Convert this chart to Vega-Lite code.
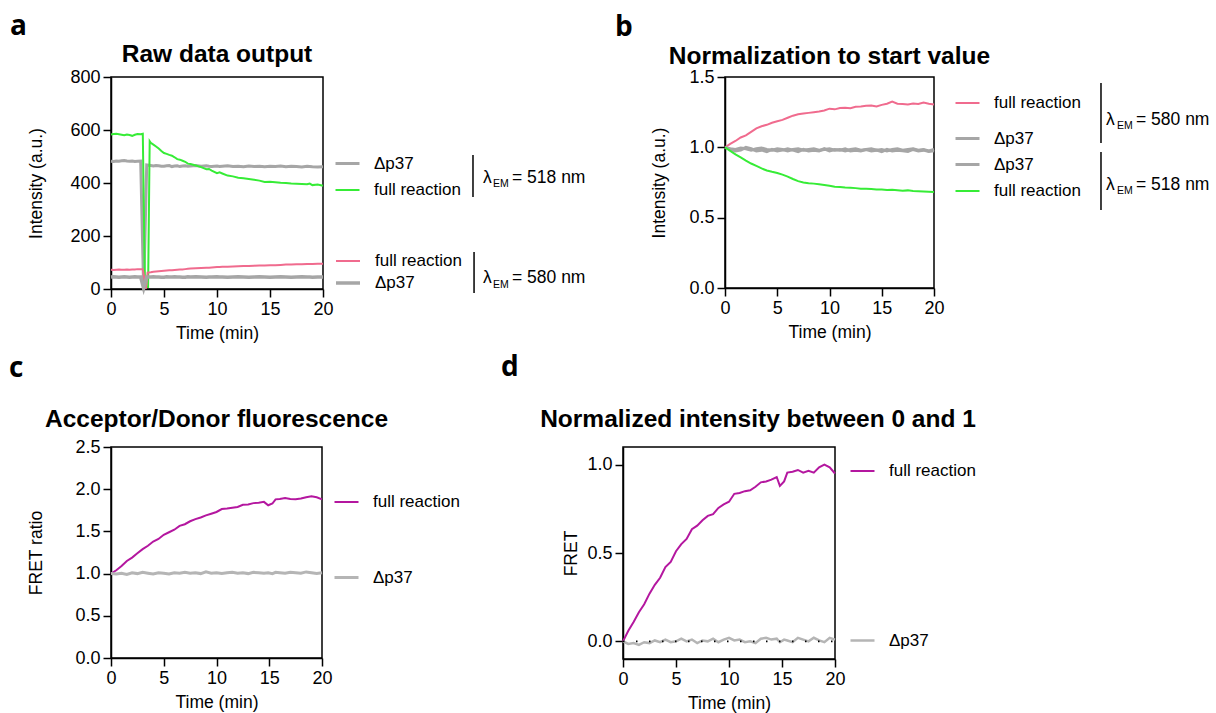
{
"$schema": "https://vega.github.io/schema/vega-lite/v6.json",
"background": "white",
"padding": {"left": 8, "top": 12, "right": 0, "bottom": 0},
"config": {
 "view": {"stroke": "#000", "strokeWidth": 1.5},
 "font": "Liberation Sans",
 "axis": {"grid": false, "domainColor": "#000", "domainWidth": 1.5, "tickColor": "#000", "tickWidth": 1.5, "tickSize": 8, "labelFont": "Liberation Sans", "labelFontSize": 18, "labelColor": "#000", "labelPadding": 3, "labelFlush": false, "labelOverlap": false, "titleFont": "Liberation Sans", "titleFontWeight": "normal", "titleColor": "#000"},
 "axisX": {"titleFontSize": 17.5, "titlePadding": 6},
 "axisY": {"titleFontSize": 17.5},
 "legend": {"labelFont": "Liberation Sans", "labelFontSize": 17, "labelColor": "#000", "symbolType": "stroke", "symbolSize": 576, "symbolStrokeWidth": 2.5, "labelOffset": 13, "padding": 0},
 "title": {"font": "Liberation Sans", "fontSize": 24.5, "fontWeight": "bold", "color": "#000", "anchor": "middle", "frame": "group"}
},
"spacing": 10,
"resolve": {"scale": {"color": "independent", "strokeWidth": "independent"}, "legend": {"color": "independent", "strokeWidth": "independent"}},
"vconcat": [
{
 "bounds": "flush",
 "spacing": 402,
 "resolve": {"scale": {"color": "independent", "strokeWidth": "independent"}, "legend": {"color": "independent", "strokeWidth": "independent"}},
 "hconcat": [
 {
  "width": 212, "height": 212,
  "title": {"text": "Raw data output", "offset": -55},
  "data": {"values": [
   {"t":0,"g":583,"d1":482,"p":73,"d2":45},
   {"t":0.25,"g":585,"d1":481,"p":72,"d2":46},
   {"t":0.5,"g":586,"d1":483,"p":73,"d2":45},
   {"t":0.75,"g":584,"d1":482,"p":74,"d2":44},
   {"t":1,"g":582,"d1":484,"p":73,"d2":45},
   {"t":1.25,"g":580,"d1":485,"p":73,"d2":46},
   {"t":1.5,"g":583,"d1":483,"p":74,"d2":45},
   {"t":1.75,"g":581,"d1":482,"p":73,"d2":44},
   {"t":2,"g":578,"d1":483,"p":74,"d2":45},
   {"t":2.25,"g":582,"d1":481,"p":74,"d2":46},
   {"t":2.5,"g":585,"d1":482,"p":75,"d2":45},
   {"t":2.8,"g":584,"d1":483,"p":75,"d2":45},
   {"t":3.0,"g":586,"p":75},
   {"t":3.08,"d1":2,"d2":2},
   {"t":3.2,"g":8},
   {"t":3.3,"p":1},
   {"t":3.37,"d1":468,"d2":45},
   {"t":3.45,"p":62},
   {"t":3.5,"g":8},
   {"t":3.65,"g":558},
   {"t":3.75,"g":552,"d1":466,"p":63,"d2":45},
   {"t":4,"g":545,"d1":464,"p":65,"d2":46},
   {"t":4.25,"g":538,"d1":466,"p":66,"d2":45},
   {"t":4.5,"g":530,"d1":465,"p":67,"d2":45},
   {"t":4.75,"g":521,"d1":463,"p":68,"d2":44},
   {"t":5,"g":513,"d1":463,"p":69,"d2":44},
   {"t":5.25,"g":510,"d1":465,"p":70,"d2":46},
   {"t":5.5,"g":506,"d1":466,"p":71,"d2":45},
   {"t":5.75,"g":503,"d1":462,"p":71,"d2":45},
   {"t":6,"g":497,"d1":464,"p":72,"d2":46},
   {"t":6.25,"g":490,"d1":465,"p":73,"d2":45},
   {"t":6.5,"g":488,"d1":462,"p":74,"d2":45},
   {"t":6.75,"g":484,"d1":464,"p":74,"d2":44},
   {"t":7,"g":480,"d1":465,"p":75,"d2":44},
   {"t":7.25,"g":473,"d1":463,"p":76,"d2":46},
   {"t":7.5,"g":472,"d1":464,"p":77,"d2":45},
   {"t":8,"g":466,"d1":466,"p":78,"d2":46},
   {"t":8.5,"g":460,"d1":463,"p":79,"d2":45},
   {"t":9,"g":452,"d1":465,"p":80,"d2":44},
   {"t":9.25,"g":453,"d1":463,"p":80,"d2":45},
   {"t":9.5,"g":447,"d1":462,"p":81,"d2":45},
   {"t":10,"g":437,"d1":464,"p":83,"d2":46},
   {"t":10.25,"g":440,"d1":462,"p":83,"d2":45},
   {"t":10.5,"g":436,"d1":463,"p":84,"d2":45},
   {"t":11,"g":428,"d1":465,"p":84,"d2":44},
   {"t":11.5,"g":425,"d1":462,"p":85,"d2":45},
   {"t":12,"g":420,"d1":463,"p":86,"d2":46},
   {"t":12.5,"g":418,"d1":461,"p":87,"d2":45},
   {"t":13,"g":415,"d1":464,"p":87,"d2":44},
   {"t":13.5,"g":412,"d1":462,"p":88,"d2":45},
   {"t":14,"g":409,"d1":463,"p":89,"d2":46},
   {"t":14.5,"g":404,"d1":461,"p":89,"d2":45},
   {"t":15,"g":405,"d1":463,"p":90,"d2":44},
   {"t":15.5,"g":403,"d1":462,"p":90,"d2":45},
   {"t":16,"g":401,"d1":464,"p":91,"d2":46},
   {"t":16.5,"g":400,"d1":461,"p":92,"d2":45},
   {"t":17,"g":398,"d1":463,"p":92,"d2":44},
   {"t":17.5,"g":397,"d1":462,"p":93,"d2":45},
   {"t":18,"g":396,"d1":460,"p":93,"d2":46},
   {"t":18.5,"g":395,"d1":463,"p":94,"d2":45},
   {"t":18.75,"g":398,"d1":462,"p":94,"d2":45},
   {"t":19,"g":392,"d1":461,"p":94,"d2":44},
   {"t":19.5,"g":394,"d1":460,"p":95,"d2":45},
   {"t":20,"g":390,"d1":461,"p":95,"d2":45}
  ]},
  "layer": [
   {"transform": [{"fold": ["d1","g"], "as": ["series","v"]}, {"filter": "isValid(datum.v)"}],
    "mark": {"type": "line"},
    "encoding": {
     "x": {"field": "t", "type": "quantitative", "scale": {"domain": [0,20]}, "axis": {"values": [0,5,10,15,20], "title": "Time (min)"}},
     "y": {"field": "v", "type": "quantitative", "scale": {"domain": [0,800]}, "axis": {"values": [0,200,400,600,800], "title": "Intensity (a.u.)", "titlePadding": 24}},
     "color": {"field": "series", "type": "nominal", "scale": {"domain": ["d1","g"], "range": ["#a6a6a6","#36ec36"]}, "legend": {"title": null, "orient": "none", "legendX": 223, "legendY": 73, "rowPadding": 5, "labelExpr": "datum.label == 'd1' ? 'Δp37' : 'full reaction'"}},
     "strokeWidth": {"field": "series", "type": "nominal", "scale": {"domain": ["d1","g"], "range": [3,2]}, "legend": null}
    }},
   {"transform": [{"fold": ["p","d2"], "as": ["series","v"]}, {"filter": "isValid(datum.v)"}],
    "mark": {"type": "line"},
    "encoding": {
     "x": {"field": "t", "type": "quantitative", "scale": {"domain": [0,20]}},
     "y": {"field": "v", "type": "quantitative", "scale": {"domain": [0,800]}},
     "color": {"field": "series", "type": "nominal", "scale": {"domain": ["p","d2"], "range": ["#f06b8e","#a6a6a6"]}, "legend": {"title": null, "orient": "none", "legendX": 223, "legendY": 171, "rowPadding": 0, "labelExpr": "datum.label == 'd2' ? 'Δp37' : 'full reaction'"}},
     "strokeWidth": {"field": "series", "type": "nominal", "scale": {"domain": ["p","d2"], "range": [2,3.5]}, "legend": null}
    }},
   {"data": {"values": [{}]}, "mark": {"type": "rule", "color": "#000", "strokeWidth": 1.5},
    "encoding": {"x": {"datum": 34.15, "type": "quantitative", "scale": {"domain": [0,20]}}, "y": {"datum": 505.7, "type": "quantitative", "scale": {"domain": [0,800]}}, "y2": {"datum": 347.2}}},
   {"data": {"values": [{}]}, "mark": {"type": "rule", "color": "#000", "strokeWidth": 1.5},
    "encoding": {"x": {"datum": 34.25, "type": "quantitative", "scale": {"domain": [0,20]}}, "y": {"datum": 139.6, "type": "quantitative", "scale": {"domain": [0,800]}}, "y2": {"datum": -15.1}}},
   {"data": {"values": [{}]}, "mark": {"type": "text", "text": "λ", "fontSize": 17.5, "align": "left", "baseline": "alphabetic", "fill": "#000"},
    "encoding": {"x": {"datum": 35.09, "type": "quantitative", "scale": {"domain": [0,20]}}, "y": {"datum": 400, "type": "quantitative", "scale": {"domain": [0,800]}}}},
   {"data": {"values": [{}]}, "mark": {"type": "text", "text": "EM", "fontSize": 10.5, "align": "left", "baseline": "alphabetic", "fill": "#000"},
    "encoding": {"x": {"datum": 36.04, "type": "quantitative", "scale": {"domain": [0,20]}}, "y": {"datum": 384.9, "type": "quantitative", "scale": {"domain": [0,800]}}}},
   {"data": {"values": [{}]}, "mark": {"type": "text", "text": "= 518 nm", "fontSize": 17.5, "align": "left", "baseline": "alphabetic", "fill": "#000"},
    "encoding": {"x": {"datum": 37.83, "type": "quantitative", "scale": {"domain": [0,20]}}, "y": {"datum": 400, "type": "quantitative", "scale": {"domain": [0,800]}}}},
   {"data": {"values": [{}]}, "mark": {"type": "text", "text": "λ", "fontSize": 17.5, "align": "left", "baseline": "alphabetic", "fill": "#000"},
    "encoding": {"x": {"datum": 35.09, "type": "quantitative", "scale": {"domain": [0,20]}}, "y": {"datum": 22.6, "type": "quantitative", "scale": {"domain": [0,800]}}}},
   {"data": {"values": [{}]}, "mark": {"type": "text", "text": "EM", "fontSize": 10.5, "align": "left", "baseline": "alphabetic", "fill": "#000"},
    "encoding": {"x": {"datum": 36.04, "type": "quantitative", "scale": {"domain": [0,20]}}, "y": {"datum": 3.8, "type": "quantitative", "scale": {"domain": [0,800]}}}},
   {"data": {"values": [{}]}, "mark": {"type": "text", "text": "= 580 nm", "fontSize": 17.5, "align": "left", "baseline": "alphabetic", "fill": "#000"},
    "encoding": {"x": {"datum": 37.83, "type": "quantitative", "scale": {"domain": [0,20]}}, "y": {"datum": 22.6, "type": "quantitative", "scale": {"domain": [0,800]}}}},
   {"data": {"values": [{}]}, "mark": {"type": "text", "text": "a", "font": "Open Sans", "fontSize": 28, "fontWeight": "bold", "align": "left", "baseline": "alphabetic", "fill": "#000"},
    "encoding": {"x": {"datum": -9.53, "type": "quantitative", "scale": {"domain": [0,20]}}, "y": {"datum": 958.5, "type": "quantitative", "scale": {"domain": [0,800]}}}}
  ],
  "resolve": {"scale": {"color": "independent", "strokeWidth": "independent"}}
 },
 {
  "width": 209, "height": 211,
  "title": {"text": "Normalization to start value", "offset": -55},
  "data": {"values": [
   {"t":0,"p":1.0,"d1":1.0,"d2":1.0,"g":1.0},
   {"t":0.5,"p":1.025,"d1":0.99,"d2":0.985,"g":0.975},
   {"t":1,"p":1.045,"d1":0.985,"d2":0.975,"g":0.95},
   {"t":1.5,"p":1.07,"d1":0.995,"d2":0.98,"g":0.928},
   {"t":2,"p":1.085,"d1":0.99,"d2":1.0,"g":0.905},
   {"t":2.5,"p":1.11,"d1":0.98,"d2":0.99,"g":0.885},
   {"t":3,"p":1.135,"d1":0.99,"d2":0.975,"g":0.868},
   {"t":3.5,"p":1.15,"d1":0.995,"d2":0.98,"g":0.85},
   {"t":4,"p":1.16,"d1":0.985,"d2":0.97,"g":0.835},
   {"t":4.5,"p":1.175,"d1":0.98,"d2":0.985,"g":0.826},
   {"t":5,"p":1.185,"d1":0.99,"d2":0.975,"g":0.818},
   {"t":5.5,"p":1.195,"d1":0.985,"d2":0.98,"g":0.806},
   {"t":6,"p":1.21,"d1":0.975,"d2":0.99,"g":0.792},
   {"t":6.5,"p":1.225,"d1":0.985,"d2":0.98,"g":0.775},
   {"t":7,"p":1.235,"d1":0.99,"d2":0.97,"g":0.76},
   {"t":7.5,"p":1.24,"d1":0.98,"d2":0.985,"g":0.75},
   {"t":8,"p":1.245,"d1":0.985,"d2":0.975,"g":0.745},
   {"t":8.5,"p":1.25,"d1":0.99,"d2":0.98,"g":0.742},
   {"t":9,"p":1.255,"d1":0.98,"d2":0.975,"g":0.737},
   {"t":9.5,"p":1.262,"d1":0.985,"d2":0.99,"g":0.732},
   {"t":10,"p":1.275,"d1":0.99,"d2":0.975,"g":0.727},
   {"t":10.5,"p":1.27,"d1":0.98,"d2":0.985,"g":0.72},
   {"t":11,"p":1.28,"d1":0.985,"d2":0.98,"g":0.718},
   {"t":11.5,"p":1.282,"d1":0.975,"d2":0.99,"g":0.715},
   {"t":12,"p":1.278,"d1":0.985,"d2":0.975,"g":0.713},
   {"t":12.5,"p":1.288,"d1":0.99,"d2":0.98,"g":0.71},
   {"t":13,"p":1.29,"d1":0.98,"d2":0.975,"g":0.706},
   {"t":13.5,"p":1.295,"d1":0.985,"d2":0.985,"g":0.705},
   {"t":14,"p":1.298,"d1":0.99,"d2":0.975,"g":0.703},
   {"t":14.5,"p":1.29,"d1":0.98,"d2":0.98,"g":0.7},
   {"t":15,"p":1.302,"d1":0.985,"d2":0.97,"g":0.7},
   {"t":15.5,"p":1.31,"d1":0.975,"d2":0.985,"g":0.697},
   {"t":16,"p":1.325,"d1":0.985,"d2":0.975,"g":0.698},
   {"t":16.5,"p":1.31,"d1":0.99,"d2":0.98,"g":0.695},
   {"t":17,"p":1.308,"d1":0.98,"d2":0.975,"g":0.692},
   {"t":17.5,"p":1.305,"d1":0.985,"d2":0.97,"g":0.694},
   {"t":18,"p":1.312,"d1":0.99,"d2":0.985,"g":0.69},
   {"t":18.5,"p":1.308,"d1":0.98,"d2":0.975,"g":0.688},
   {"t":19,"p":1.318,"d1":0.985,"d2":0.98,"g":0.686},
   {"t":19.5,"p":1.31,"d1":0.975,"d2":0.97,"g":0.684},
   {"t":20,"p":1.305,"d1":0.985,"d2":0.975,"g":0.682}
  ]},
  "layer": [
   {"transform": [{"fold": ["p","d1"], "as": ["series","v"]}],
    "mark": {"type": "line"},
    "encoding": {
     "x": {"field": "t", "type": "quantitative", "scale": {"domain": [0,20]}, "axis": {"values": [0,2.5,5,7.5,10,12.5,15,17.5,20], "labelExpr": "datum.value % 5 == 0 ? datum.label : ''", "title": "Time (min)"}},
     "y": {"field": "v", "type": "quantitative", "scale": {"domain": [0,1.5]}, "axis": {"values": [0,0.25,0.5,0.75,1,1.25,1.5], "format": ".1f", "labelExpr": "datum.value % 0.5 == 0 ? datum.label : ''", "title": "Intensity (a.u.)", "titlePadding": 20}},
     "color": {"field": "series", "type": "nominal", "scale": {"domain": ["p","d1"], "range": ["#f06b8e","#a6a6a6"]}, "legend": {"title": null, "orient": "none", "legendX": 229, "legendY": 13, "rowPadding": 14, "labelExpr": "datum.label == 'd1' ? 'Δp37' : 'full reaction'"}},
     "strokeWidth": {"field": "series", "type": "nominal", "scale": {"domain": ["p","d1"], "range": [2,3]}, "legend": null}
    }},
   {"transform": [{"fold": ["d2","g"], "as": ["series","v"]}],
    "mark": {"type": "line"},
    "encoding": {
     "x": {"field": "t", "type": "quantitative", "scale": {"domain": [0,20]}},
     "y": {"field": "v", "type": "quantitative", "scale": {"domain": [0,1.5]}},
     "color": {"field": "series", "type": "nominal", "scale": {"domain": ["d2","g"], "range": ["#a6a6a6","#36ec36"]}, "legend": {"title": null, "orient": "none", "legendX": 229, "legendY": 74, "rowPadding": 5, "labelExpr": "datum.label == 'd2' ? 'Δp37' : 'full reaction'"}},
     "strokeWidth": {"field": "series", "type": "nominal", "scale": {"domain": ["d2","g"], "range": [3,2]}, "legend": null}
    }},
   {"data": {"values": [{}]}, "mark": {"type": "rule", "color": "#000", "strokeWidth": 1.5},
    "encoding": {"x": {"datum": 35.98, "type": "quantitative", "scale": {"domain": [0,20]}}, "y": {"datum": 1.457, "type": "quantitative", "scale": {"domain": [0,1.5]}}, "y2": {"datum": 1.031}}},
   {"data": {"values": [{}]}, "mark": {"type": "rule", "color": "#000", "strokeWidth": 1.5},
    "encoding": {"x": {"datum": 35.98, "type": "quantitative", "scale": {"domain": [0,20]}}, "y": {"datum": 0.967, "type": "quantitative", "scale": {"domain": [0,1.5]}}, "y2": {"datum": 0.554}}},
   {"data": {"values": [{}]}, "mark": {"type": "text", "text": "λ", "fontSize": 17.5, "align": "left", "baseline": "alphabetic", "fill": "#000"},
    "encoding": {"x": {"datum": 36.46, "type": "quantitative", "scale": {"domain": [0,20]}}, "y": {"datum": 1.159, "type": "quantitative", "scale": {"domain": [0,1.5]}}}},
   {"data": {"values": [{}]}, "mark": {"type": "text", "text": "EM", "fontSize": 10.5, "align": "left", "baseline": "alphabetic", "fill": "#000"},
    "encoding": {"x": {"datum": 37.51, "type": "quantitative", "scale": {"domain": [0,20]}}, "y": {"datum": 1.128, "type": "quantitative", "scale": {"domain": [0,1.5]}}}},
   {"data": {"values": [{}]}, "mark": {"type": "text", "text": "= 580 nm", "fontSize": 17.5, "align": "left", "baseline": "alphabetic", "fill": "#000"},
    "encoding": {"x": {"datum": 39.33, "type": "quantitative", "scale": {"domain": [0,20]}}, "y": {"datum": 1.159, "type": "quantitative", "scale": {"domain": [0,1.5]}}}},
   {"data": {"values": [{}]}, "mark": {"type": "text", "text": "λ", "fontSize": 17.5, "align": "left", "baseline": "alphabetic", "fill": "#000"},
    "encoding": {"x": {"datum": 36.46, "type": "quantitative", "scale": {"domain": [0,20]}}, "y": {"datum": 0.697, "type": "quantitative", "scale": {"domain": [0,1.5]}}}},
   {"data": {"values": [{}]}, "mark": {"type": "text", "text": "EM", "fontSize": 10.5, "align": "left", "baseline": "alphabetic", "fill": "#000"},
    "encoding": {"x": {"datum": 37.51, "type": "quantitative", "scale": {"domain": [0,20]}}, "y": {"datum": 0.666, "type": "quantitative", "scale": {"domain": [0,1.5]}}}},
   {"data": {"values": [{}]}, "mark": {"type": "text", "text": "= 518 nm", "fontSize": 17.5, "align": "left", "baseline": "alphabetic", "fill": "#000"},
    "encoding": {"x": {"datum": 39.33, "type": "quantitative", "scale": {"domain": [0,20]}}, "y": {"datum": 0.697, "type": "quantitative", "scale": {"domain": [0,1.5]}}}},
   {"data": {"values": [{}]}, "mark": {"type": "text", "text": "b", "font": "Open Sans", "fontSize": 28, "fontWeight": "bold", "align": "left", "baseline": "alphabetic", "fill": "#000"},
    "encoding": {"x": {"datum": -10.53, "type": "quantitative", "scale": {"domain": [0,20]}}, "y": {"datum": 1.791, "type": "quantitative", "scale": {"domain": [0,1.5]}}}}
  ],
  "resolve": {"scale": {"color": "independent", "strokeWidth": "independent"}}
 }
 ]
},
{
 "bounds": "flush",
 "spacing": 301,
 "resolve": {"scale": {"color": "independent", "strokeWidth": "independent"}, "legend": {"color": "independent", "strokeWidth": "independent"}},
 "hconcat": [
 {
  "width": 211, "height": 211,
  "title": {"text": "Acceptor/Donor fluorescence", "offset": -78},
  "data": {"values": [
   {"t":0,"f":1.0,"d":1.0},
   {"t":0.5,"f":1.04,"d":0.995},
   {"t":1,"f":1.09,"d":1.005},
   {"t":1.5,"f":1.15,"d":0.99},
   {"t":2,"f":1.19,"d":1.01},
   {"t":2.5,"f":1.24,"d":1.0},
   {"t":3,"f":1.29,"d":1.015},
   {"t":3.5,"f":1.33,"d":1.005},
   {"t":4,"f":1.38,"d":0.995},
   {"t":4.5,"f":1.41,"d":1.01},
   {"t":5,"f":1.46,"d":1.005},
   {"t":5.5,"f":1.49,"d":0.995},
   {"t":6,"f":1.52,"d":1.01},
   {"t":6.5,"f":1.565,"d":1.005},
   {"t":7,"f":1.585,"d":1.015},
   {"t":7.5,"f":1.62,"d":1.005},
   {"t":8,"f":1.645,"d":1.01},
   {"t":8.5,"f":1.665,"d":1.0},
   {"t":9,"f":1.69,"d":1.02},
   {"t":9.5,"f":1.71,"d":1.005},
   {"t":10,"f":1.73,"d":1.01},
   {"t":10.5,"f":1.765,"d":1.0},
   {"t":11,"f":1.77,"d":1.01},
   {"t":11.5,"f":1.78,"d":1.015},
   {"t":12,"f":1.79,"d":1.005},
   {"t":12.5,"f":1.815,"d":1.01},
   {"t":13,"f":1.82,"d":1.0},
   {"t":13.5,"f":1.835,"d":1.015},
   {"t":14,"f":1.84,"d":1.01},
   {"t":14.5,"f":1.85,"d":1.005},
   {"t":14.9,"f":1.81,"d":1.01},
   {"t":15.3,"f":1.83,"d":1.0},
   {"t":15.6,"f":1.88,"d":1.015},
   {"t":16,"f":1.885,"d":1.01},
   {"t":16.5,"f":1.895,"d":1.005},
   {"t":17,"f":1.885,"d":1.015},
   {"t":17.5,"f":1.88,"d":1.01},
   {"t":18,"f":1.89,"d":1.005},
   {"t":18.5,"f":1.905,"d":1.02},
   {"t":19,"f":1.915,"d":1.01},
   {"t":19.5,"f":1.905,"d":1.0},
   {"t":20,"f":1.88,"d":1.01}
  ]},
  "layer": [
   {"transform": [{"fold": ["f","d"], "as": ["series","v"]}],
    "mark": {"type": "line"},
    "encoding": {
     "x": {"field": "t", "type": "quantitative", "scale": {"domain": [0,20]}, "axis": {"values": [0,5,10,15,20], "title": "Time (min)"}},
     "y": {"field": "v", "type": "quantitative", "scale": {"domain": [0,2.5]}, "axis": {"values": [0,0.5,1,1.5,2,2.5], "format": ".1f", "title": "FRET ratio", "titlePadding": 29}},
     "color": {"field": "series", "type": "nominal", "scale": {"domain": ["f","d"], "range": ["#b4179f","#b5b5b5"]}, "legend": {"title": null, "orient": "none", "legendX": 222, "legendY": 42, "rowPadding": 54, "symbolStrokeWidth": 1.5, "labelExpr": "datum.label == 'd' ? 'Δp37' : 'full reaction'"}},
     "strokeWidth": {"field": "series", "type": "nominal", "scale": {"domain": ["f","d"], "range": [2,3]}, "legend": null}
    }},
   {"data": {"values": [{}]}, "mark": {"type": "text", "text": "c", "font": "Open Sans", "fontSize": 28, "fontWeight": "bold", "align": "left", "baseline": "alphabetic", "fill": "#000"},
    "encoding": {"x": {"datum": -9.67, "type": "quantitative", "scale": {"domain": [0,20]}}, "y": {"datum": 3.33, "type": "quantitative", "scale": {"domain": [0,2.5]}}}}
  ]
 },
 {
  "width": 212, "height": 212,
  "title": {"text": "Normalized intensity between 0 and 1", "offset": -78, "dx": 29},
  "data": {"values": [
   {"t":0,"f":0,"d":0},
   {"t":0.5,"f":0.06,"d":-0.015},
   {"t":1,"f":0.11,"d":-0.01},
   {"t":1.5,"f":0.165,"d":-0.02},
   {"t":2,"f":0.21,"d":-0.005},
   {"t":2.5,"f":0.27,"d":-0.01},
   {"t":3,"f":0.32,"d":0.005},
   {"t":3.5,"f":0.36,"d":-0.005},
   {"t":4,"f":0.42,"d":0.01},
   {"t":4.5,"f":0.45,"d":-0.005},
   {"t":5,"f":0.51,"d":0.0},
   {"t":5.5,"f":0.55,"d":0.015},
   {"t":6,"f":0.58,"d":0.0},
   {"t":6.5,"f":0.635,"d":0.01},
   {"t":7,"f":0.655,"d":-0.01},
   {"t":7.5,"f":0.685,"d":0.005},
   {"t":8,"f":0.71,"d":0.0},
   {"t":8.5,"f":0.72,"d":0.015},
   {"t":9,"f":0.755,"d":-0.005},
   {"t":9.5,"f":0.775,"d":0.01},
   {"t":10,"f":0.79,"d":0.02},
   {"t":10.5,"f":0.835,"d":0.005},
   {"t":11,"f":0.84,"d":0.01},
   {"t":11.5,"f":0.85,"d":-0.005},
   {"t":12,"f":0.855,"d":0.0},
   {"t":12.5,"f":0.875,"d":-0.01},
   {"t":13,"f":0.9,"d":0.015},
   {"t":13.5,"f":0.905,"d":0.02},
   {"t":14,"f":0.915,"d":0.01},
   {"t":14.5,"f":0.93,"d":0.015},
   {"t":14.8,"f":0.88,"d":-0.005},
   {"t":15.2,"f":0.905,"d":0.01},
   {"t":15.5,"f":0.955,"d":0.005},
   {"t":16,"f":0.96,"d":-0.005},
   {"t":16.5,"f":0.97,"d":0.02},
   {"t":17,"f":0.955,"d":0.01},
   {"t":17.5,"f":0.965,"d":0.0},
   {"t":18,"f":0.955,"d":0.02},
   {"t":18.5,"f":0.985,"d":0.005},
   {"t":19,"f":1.0,"d":-0.005},
   {"t":19.5,"f":0.985,"d":0.02},
   {"t":20,"f":0.95,"d":0.01}
  ]},
  "layer": [
   {"transform": [{"fold": ["f","d"], "as": ["series","v"]}],
    "mark": {"type": "line"},
    "encoding": {
     "x": {"field": "t", "type": "quantitative", "scale": {"domain": [0,20]}, "axis": {"values": [0,5,10,15,20], "title": "Time (min)"}},
     "y": {"field": "v", "type": "quantitative", "scale": {"domain": [-0.1,1.1], "nice": false}, "axis": {"values": [0,0.5,1], "format": ".1f", "title": "FRET", "titlePadding": 6}},
     "color": {"field": "series", "type": "nominal", "scale": {"domain": ["f","d"], "range": ["#b4179f","#b5b5b5"]}, "legend": {"title": null, "orient": "none", "legendX": 226, "legendY": 11, "rowPadding": 148, "symbolStrokeWidth": 1.5, "labelExpr": "datum.label == 'd' ? 'Δp37' : 'full reaction'"}},
     "strokeWidth": {"field": "series", "type": "nominal", "scale": {"domain": ["f","d"], "range": [2,2.5]}, "legend": null}
    }},
   {"data": {"values": [{}]}, "mark": {"type": "rule", "color": "#000", "strokeWidth": 1.8, "strokeDash": [1.5, 11.5]},
    "encoding": {"x": {"datum": 0, "type": "quantitative", "scale": {"domain": [0,20]}}, "x2": {"datum": 20}, "y": {"datum": 0, "type": "quantitative", "scale": {"domain": [-0.1,1.1], "nice": false}}}},
   {"data": {"values": [{}]}, "mark": {"type": "text", "text": "d", "font": "Open Sans", "fontSize": 28, "fontWeight": "bold", "align": "left", "baseline": "alphabetic", "fill": "#000"},
    "encoding": {"x": {"datum": -11.5, "type": "quantitative", "scale": {"domain": [0,20]}}, "y": {"datum": 1.5, "type": "quantitative", "scale": {"domain": [-0.1,1.1], "nice": false}}}}
  ]
 }
 ]
}
]
}
